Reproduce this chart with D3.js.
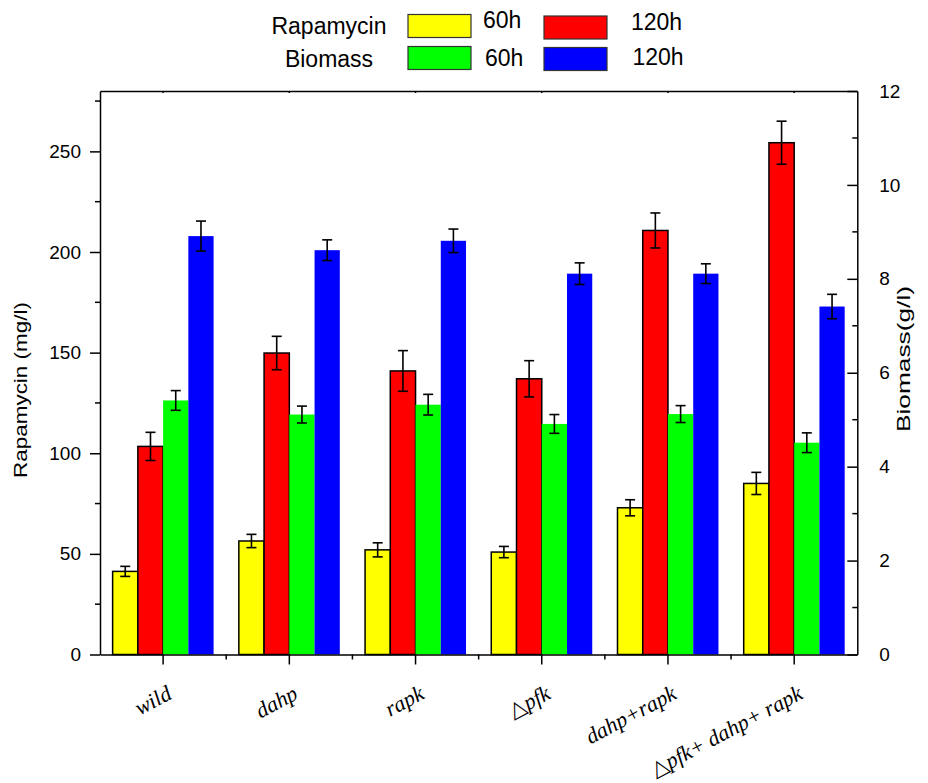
<!DOCTYPE html>
<html>
  <head>
    <meta charset="utf-8" />
    <script src="https://d3js.org/d3.v7.min.js"></script>
    <style>
      body { margin: 0; background: #fff; }
      text { font-family: Arial, "Liberation Sans", sans-serif; fill: #000; }
      .axis path, .axis line { stroke: #000; stroke-width: 1.5px; }
      .xlabel { font-family: "Liberation Serif", "DejaVu Serif", serif; font-style: italic; font-size: 22px; }
    </style>
  </head>
  <body>

    <svg id="chart" width="928" height="783"></svg>

    <script>

      var categories = ["wild", "dahp", "rapk", "\u25B3pfk", "dahp+rapk", "\u25B3pfk+ dahp+ rapk"];

      // Rapamycin (mg/l), left axis
      var rapa60 = [41.3, 56.4, 52.0, 50.9, 72.9, 85.0];
      var rapa60Err = [2.5, 3.3, 3.5, 2.8, 4.0, 5.5];
      var rapa120 = [103.4, 149.8, 140.9, 137.0, 210.7, 254.3];
      var rapa120Err = [7.0, 8.3, 10.1, 9.0, 8.7, 10.7];

      // Biomass (g/l), right axis
      var bio60 = [5.41, 5.11, 5.32, 4.91, 5.12, 4.51];
      var bio60Err = [0.21, 0.18, 0.22, 0.20, 0.18, 0.21];
      var bio120 = [8.91, 8.61, 8.81, 8.11, 8.11, 7.41];
      var bio120Err = [0.32, 0.22, 0.25, 0.23, 0.21, 0.26];

      var leftTicks = [0, 50, 100, 150, 200, 250];
      var rightTicks = [0, 2, 4, 6, 8, 10, 12];

      var svg = d3.select("#chart");

      var plotL = 100, plotR = 857.3, plotT = 91, plotB = 654.5;

      var x = d3.scaleBand().domain(categories).range([plotL, plotR]).padding(0);
      var yL = d3.scaleLinear().domain([0, 280]).range([plotB, plotT]);
      var yR = d3.scaleLinear().domain([0, 12]).range([plotB, plotT]);

      var series = [
        { key: "r60", vals: rapa60, errs: rapa60Err, y: yL, fill: "#ffff00", stroke: "#000" },
        { key: "r120", vals: rapa120, errs: rapa120Err, y: yL, fill: "#ff0000", stroke: "#000" },
        { key: "b60", vals: bio60, errs: bio60Err, y: yR, fill: "#00ff00", stroke: "none" },
        { key: "b120", vals: bio120, errs: bio120Err, y: yR, fill: "#0000ff", stroke: "none" }
      ];

      var xs = d3.scaleBand()
        .domain(series.map(function(s) { return s.key; }))
        .range([x.bandwidth() * 0.1, x.bandwidth() * 0.9]);

      // bars
      series.forEach(function(s) {
        var g = svg.append("g");
        g.selectAll("rect")
          .data(categories)
          .enter().append("rect")
          .attr("x", function(d) { return x(d) + xs(s.key); })
          .attr("y", function(d, i) { return s.y(s.vals[i]); })
          .attr("width", xs.bandwidth())
          .attr("height", function(d, i) { return s.y(0) - s.y(s.vals[i]); })
          .attr("fill", s.fill)
          .attr("stroke", s.stroke)
          .attr("stroke-width", 1.5);
      });

      // error bars
      series.forEach(function(s) {
        var g = svg.append("g").attr("stroke", "#000").attr("stroke-width", 1.6);
        categories.forEach(function(d, i) {
          var cx = x(d) + xs(s.key) + xs.bandwidth() / 2;
          var hi = s.y(s.vals[i] + s.errs[i]);
          var lo = s.y(s.vals[i] - s.errs[i]);
          g.append("line").attr("x1", cx).attr("x2", cx).attr("y1", hi).attr("y2", lo);
          g.append("line").attr("x1", cx - 5).attr("x2", cx + 5).attr("y1", hi).attr("y2", hi);
          g.append("line").attr("x1", cx - 5).attr("x2", cx + 5).attr("y1", lo).attr("y2", lo);
        });
      });

      // left axis
      var gL = svg.append("g").attr("class", "axis")
        .attr("transform", "translate(" + plotL + ",0)")
        .call(d3.axisLeft(yL).tickValues(leftTicks).tickSize(10).tickPadding(9).tickSizeOuter(0));
      gL.selectAll("text").style("font-size", "19px");
      gL.selectAll(".minor")
        .data(d3.range(25, 280, 50))
        .enter().append("line")
        .attr("x1", -5).attr("x2", 0)
        .attr("y1", function(d) { return yL(d); })
        .attr("y2", function(d) { return yL(d); });

      // right axis (ticks inward)
      var gR = svg.append("g").attr("class", "axis")
        .attr("transform", "translate(" + plotR + ",0)")
        .call(d3.axisRight(yR).tickValues(rightTicks).tickSize(-10).tickPadding(22).tickSizeOuter(0));
      gR.selectAll("text").style("font-size", "19px");
      gR.selectAll(".minor")
        .data(d3.range(1, 12, 2))
        .enter().append("line")
        .attr("x1", -5).attr("x2", 0)
        .attr("y1", function(d) { return yR(d); })
        .attr("y2", function(d) { return yR(d); });

      // bottom axis
      var gB = svg.append("g").attr("class", "axis")
        .attr("transform", "translate(0," + plotB + ")")
        .call(d3.axisBottom(x).tickSize(10).tickSizeOuter(0).tickFormat(""));
      gB.selectAll(".minor")
        .data(categories.slice(1))
        .enter().append("line")
        .attr("x1", function(d) { return x(d); })
        .attr("x2", function(d) { return x(d); })
        .attr("y1", 0).attr("y2", 5);

      // top border
      svg.append("g").attr("class", "axis")
        .attr("transform", "translate(0," + plotT + ")")
        .call(d3.axisBottom(x).tickSize(2).tickSizeOuter(0).tickFormat(""));

      // slanted category labels
      svg.append("g").selectAll("text")
        .data(categories)
        .enter().append("text")
        .attr("class", "xlabel")
        .attr("text-anchor", "end")
        .attr("transform", function(d) {
          return "translate(" + (x(d) + x.bandwidth() / 2 + 10) + ",698) rotate(-28)";
        })
        .text(function(d) { return d; });

      // axis titles
      svg.append("text")
        .attr("transform", "translate(26.5,390) rotate(-90)")
        .attr("text-anchor", "middle")
        .attr("textLength", 176)
        .attr("lengthAdjust", "spacingAndGlyphs")
        .style("font-size", "19px")
        .text("Rapamycin (mg/l)");

      svg.append("text")
        .attr("transform", "translate(910,359) rotate(-90)")
        .attr("text-anchor", "middle")
        .attr("textLength", 146)
        .attr("lengthAdjust", "spacingAndGlyphs")
        .style("font-size", "19px")
        .text("Biomass(g/l)");

      // legend
      var legendRows = ["Rapamycin", "Biomass"];
      var legendTimes = ["60h", "120h"];
      var legend = svg.append("g").style("font-size", "23px");
      legend.selectAll(".rowlabel")
        .data(legendRows)
        .enter().append("text")
        .attr("x", 329).attr("y", function(d, i) { return i ? 66.5 : 34; })
        .attr("text-anchor", "middle")
        .text(function(d) { return d; });

      var boxPos = [[408, 14.5], [544, 16], [408, 46.5], [544, 47.5]];
      var textPos = [[483, 28], [631, 30], [485, 65.5], [632.5, 64.5]];
      series.forEach(function(s, i) {
        legend.append("rect")
          .attr("x", boxPos[i][0]).attr("y", boxPos[i][1])
          .attr("width", 63).attr("height", 23)
          .attr("fill", s.fill)
          .attr("stroke", "#333").attr("stroke-width", 1.2);
        legend.append("text")
          .attr("x", textPos[i][0]).attr("y", textPos[i][1])
          .text(legendTimes[i % 2]);
      });

    </script>

  </body>
</html>
